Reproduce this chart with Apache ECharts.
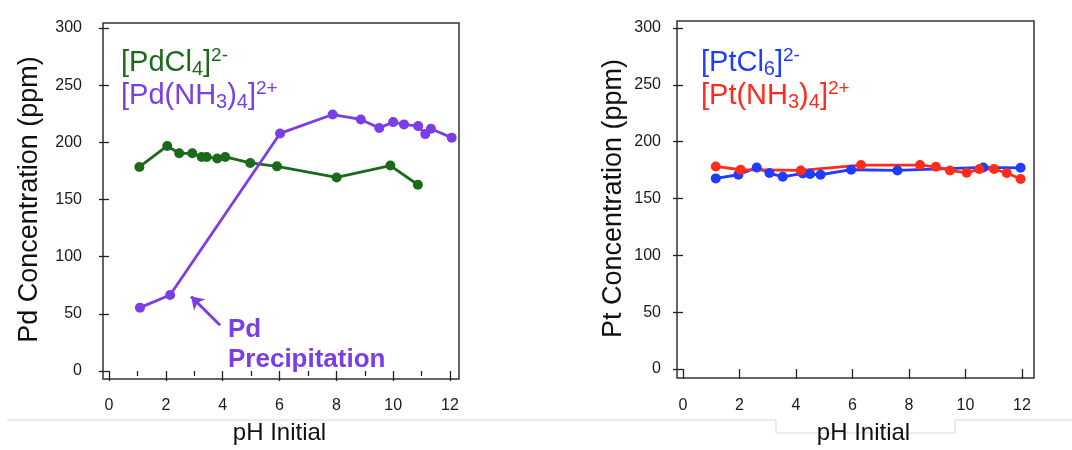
<!DOCTYPE html>
<html>
<head>
<meta charset="utf-8">
<title>Pd / Pt concentration vs initial pH</title>
<script src="https://cdn.jsdelivr.net/npm/echarts@6/dist/echarts.min.js"></script>
<style>
html, body { margin: 0; padding: 0; background: #fff; }
#main { width: 1072px; height: 450px; }
</style>
</head>
<body>
<div id="main"></div>
<script>
//axis ticks
var phTicks = [0, 2, 4, 6, 8, 10, 12];
var concTicks = [0, 50, 100, 150, 200, 250, 300];

//[PdCl4]2-
var pdClPH = [1.07, 2.05, 2.47, 2.93, 3.26, 3.44, 3.81, 4.09, 4.97, 5.91, 8.01, 9.90, 10.87];
var pdClConc = [178.5, 196.8, 190.4, 190.4, 187.2, 187.2, 185.8, 187.2, 182.0, 179.0, 169.3, 179.7, 162.9];
//[Pd(NH3)4]2+
var pdNH3PH = [1.09, 2.15, 6.02, 7.87, 8.86, 9.51, 10.00, 10.38, 10.88, 11.13, 11.33, 12.06];
var pdNH3Conc = [55.4, 66.4, 207.8, 224.3, 220.0, 212.5, 217.7, 215.7, 214.2, 207.2, 211.9, 204.1];
//[PtCl6]2-
var ptClPH = [1.16, 1.96, 2.61, 3.06, 3.53, 4.24, 4.50, 4.87, 5.95, 7.59, 10.63, 11.95];
var ptClConc = [167.7, 170.9, 177.3, 172.4, 169.1, 172.1, 171.5, 170.9, 175.3, 174.7, 177.3, 177.0];
//[Pt(NH3)4]2+
var ptNH3PH = [1.16, 2.04, 4.17, 6.30, 8.39, 8.95, 9.45, 10.04, 10.49, 11.01, 11.46, 11.95];
var ptNH3Conc = [178.2, 175.3, 174.7, 179.4, 179.4, 177.9, 174.7, 172.6, 175.9, 175.9, 172.4, 167.1];
//annotation arrow (pH, ppm): tail -> head
var arrowFrom = [3.91, 40.0];
var arrowTo = [2.89, 65.2];

var FONT = "'Liberation Sans', Arial, Helvetica, sans-serif";
var GREEN = '#1a6a1a', PURPLE = '#7a3de6', BLUE = '#1f3cff', RED = '#ff2b1c';

function zip(xs, ys) {
	var out = [];
	for (var i = 0; i < xs.length; i++) {
		out.push([xs[i], ys[i]]);
	}
	return out;
}

//x axis (pH)
function makeX(gridIndex, opts) {
	return {
		type: 'value',
		gridIndex: gridIndex,
		min: phTicks[0],
		max: phTicks[phTicks.length - 1],
		interval: phTicks[1] - phTicks[0],
		offset: opts.offset,
		axisLine: { show: false },
		axisTick: { show: true, length: 10, lineStyle: { color: '#222', width: 1.3 } },
		minorTick: { show: opts.minor, splitNumber: 2, length: 5, lineStyle: { color: '#222', width: 1.3 } },
		splitLine: { show: false },
		axisLabel: { margin: opts.labelMargin, fontSize: 16, fontFamily: FONT, color: '#1a1a1a' },
		name: 'pH Initial',
		nameLocation: 'middle',
		nameGap: opts.nameGap,
		nameTextStyle: { fontSize: 24, fontFamily: FONT, color: '#111', padding: opts.namePad }
	};
}

//y axis (ppm)
function makeY(gridIndex, name, opts) {
	return {
		type: 'value',
		gridIndex: gridIndex,
		min: concTicks[0],
		max: concTicks[concTicks.length - 1],
		interval: concTicks[1] - concTicks[0],
		offset: opts.offset,
		axisLine: { show: false },
		axisTick: { show: true, length: 10, lineStyle: { color: '#222', width: 1.3 } },
		splitLine: { show: false },
		axisLabel: { margin: opts.labelMargin, fontSize: 16, fontFamily: FONT, color: '#1a1a1a' },
		name: name,
		nameLocation: 'middle',
		nameGap: opts.nameGap,
		nameTextStyle: { fontSize: 27, fontFamily: FONT, color: '#111' }
	};
}

function makeLine(name, data, color, xi, extra) {
	var s = {
		name: name,
		type: 'line',
		xAxisIndex: xi,
		yAxisIndex: xi,
		data: data,
		clip: false,
		symbol: 'circle',
		symbolSize: 10,
		lineStyle: { color: color, width: 2.8 },
		itemStyle: { color: color },
		emphasis: { disabled: true }
	};
	if (extra) {
		for (var k in extra) s[k] = extra[k];
	}
	return s;
}

//rich styles for the formula labels
function richFor(key, color) {
	var r = {};
	r[key] = { fontSize: 29, fontWeight: 'normal', fontFamily: FONT, color: color, lineHeight: 33 };
	r[key + 's'] = { fontSize: 20, fontWeight: 'normal', fontFamily: FONT, color: color, lineHeight: 15, verticalAlign: 'bottom' };
	r[key + 'p'] = { fontSize: 19, fontWeight: 'normal', fontFamily: FONT, color: color, lineHeight: 24, verticalAlign: 'top' };
	return r;
}
function merge(a, b) {
	var o = {};
	for (var k in a) o[k] = a[k];
	for (var k2 in b) o[k2] = b[k2];
	return o;
}

var chart = echarts.init(document.getElementById('main'));
var option = {
	animation: false,
	backgroundColor: '#fff',
	grid: [
		{ left: 109, top: 28, width: 341, height: 345 },
		{ left: 683, top: 28, width: 339, height: 343 }
	],
	xAxis: [
		makeX(0, { offset: 6, minor: true, labelMargin: 21, nameGap: 44, namePad: 0 }),
		makeX(1, { offset: 7, minor: false, labelMargin: 22, nameGap: 45, namePad: [0, 0, 0, 22] })
	],
	yAxis: [
		makeY(0, 'Pd Concentration (ppm)', { offset: 6, labelMargin: 21, nameGap: 60 }),
		makeY(1, 'Pt Concentration (ppm)', { offset: 6, labelMargin: 16, nameGap: 50 })
	],
	title: [{
		left: 121, top: 46, padding: 0,
		text: '{g|[PdCl}{gs|4}{g|]}{gp|2-}\n{p|[Pd(NH}{ps|3}{p|)}{ps|4}{p|]}{pp|2+}',
		textStyle: { fontWeight: 'normal', rich: merge(richFor('g', GREEN), richFor('p', PURPLE)) }
	}, {
		left: 701, top: 46, padding: 0,
		text: '{b|[PtCl}{bs|6}{b|]}{bp|2-}\n{r|[Pt(NH}{rs|3}{r|)}{rs|4}{r|]}{rp|2+}',
		textStyle: { fontWeight: 'normal', rich: merge(richFor('b', BLUE), richFor('r', RED)) }
	}],
	graphic: [
		//plot frames
		{ type: 'rect', silent: true, z: -1, shape: { x: 103, y: 23, width: 356, height: 356 },
			style: { fill: 'none', stroke: '#333', lineWidth: 1.5 } },
		{ type: 'rect', silent: true, z: -1, shape: { x: 677, y: 21, width: 357, height: 357 },
			style: { fill: 'none', stroke: '#333', lineWidth: 1.5 } },
		//faint slide rule line
		{ type: 'polyline', silent: true, z: -2,
			shape: { points: [[7, 420], [776, 420], [776, 433], [955, 433], [955, 420], [1072, 420]] },
			style: { fill: 'none', stroke: '#d9d9d9', lineWidth: 1 } },
		//annotation text
		{ type: 'text', silent: true, left: 228, top: 315,
			style: { text: 'Pd\nPrecipitation', font: 'bold 26px ' + FONT, fill: PURPLE, lineHeight: 30 } }
	],
	series: [
		makeLine('[PdCl4]2-', zip(pdClPH, pdClConc), GREEN, 0),
		makeLine('[Pd(NH3)4]2+', zip(pdNH3PH, pdNH3Conc), PURPLE, 0, {
			markLine: {
				silent: true,
				symbol: ['none', 'arrow'],
				symbolSize: 12,
				label: { show: false },
				lineStyle: { color: PURPLE, width: 3, type: 'solid' },
				data: [[{ coord: arrowFrom }, { coord: arrowTo }]]
			}
		}),
		makeLine('[PtCl6]2-', zip(ptClPH, ptClConc), BLUE, 1),
		makeLine('[Pt(NH3)4]2+', zip(ptNH3PH, ptNH3Conc), RED, 1)
	]
};
chart.setOption(option);
</script>
</body>
</html>
